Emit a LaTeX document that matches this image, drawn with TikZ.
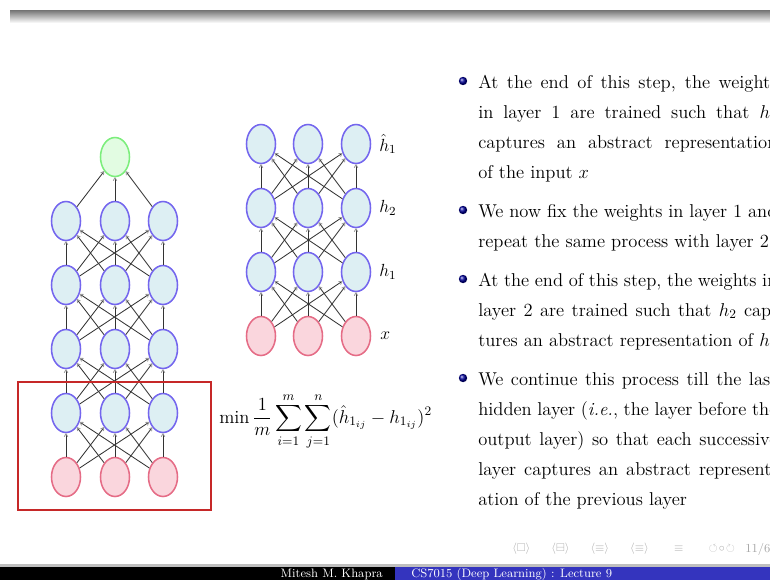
\RequirePackage{fix-cm}
\documentclass[tikz,border=0pt]{standalone}
\usepackage{amsmath,amssymb}
\usepackage{fontspec}
\usepackage{tikz}
\usetikzlibrary{arrows.meta,shapes.geometric,positioning,calc}

\definecolor{hidfill}{HTML}{DDEFF3}
\definecolor{hiddraw}{HTML}{7466EE}
\definecolor{infill}{HTML}{FAD6DD}
\definecolor{indraw}{HTML}{E56C86}
\definecolor{outfill}{HTML}{E2FCE2}
\definecolor{outdraw}{HTML}{7CEE7C}
\definecolor{boxred}{HTML}{C62828}
\definecolor{barblue}{HTML}{3434BE}

\newcommand{\justline}[1]{\makebox[7.475cm][s]{#1}}

\begin{document}
\begin{tikzpicture}[x=0.025cm, y=-0.025cm,
    neuron/.style={ellipse, draw, line width=1.1pt, inner sep=0pt, minimum width=7.25mm, minimum height=9.75mm},
    hid/.style={neuron, draw=hiddraw, fill=hidfill},
    inp/.style={neuron, draw=indraw, fill=infill},
    outn/.style={neuron, draw=outdraw, fill=outfill},
    arr/.style={-{To[length=2.6pt, width=3pt, color=black!40]}, line width=0.6pt, draw=black!80},
    txt/.style={anchor=base west, inner sep=0pt, font=\fontsize{13.2}{16}\selectfont},
    lbl/.style={anchor=west, inner sep=0pt, font=\fontsize{12.5}{15}\selectfont},
    bul/.style={ball color=blue!60!black}
]
\useasboundingbox (0,0) rectangle (770,580);
\clip (0,0) rectangle (770,580);

% slide frame
\shade[top color=black!55, bottom color=white] (10,10) rectangle (770,23);
\fill[black!25] (0,564) rectangle (770,567);
\fill[black] (0,567) rectangle (395,580);
\fill[barblue] (395,567) rectangle (770,580);
\node[anchor=base east, inner sep=0pt, text=white, font=\fontsize{8.7}{10}\selectfont] (author) at (383,577) {Mitesh M. Khapra};
\node[anchor=base west, inner sep=0pt, text=white, font=\fontsize{8.7}{10}\selectfont] (course) at (411,577) {CS7015 (Deep Learning) : Lecture 9};
\node[anchor=west, inner sep=0pt, text=black!30, font=\fontsize{8}{10}\selectfont] (nav) at (512,549)
    {$\langle\square\rangle$\hspace{15pt}$\langle\boxminus\rangle$\hspace{15pt}$\langle\equiv\rangle$\hspace{15pt}$\langle\equiv\rangle$\hspace{18pt}$\equiv$\hspace{18pt}$\circlearrowleft\!\circ\!\circlearrowright$};
\node[anchor=west, inner sep=0pt, text=black!35, font=\fontsize{8.7}{10}\selectfont] (page) at (745,549) {11/66};

% stacked network, layer 1 highlighted
\foreach \c/\x in {1/66,2/115,3/163} {
  \node[inp] (l0\c) at (\x,477) {};
  \foreach \r/\y in {1/413,2/349,3/285,4/221}
    \node[hid] (l\r\c) at (\x,\y) {};
}
\node[outn] (out) at (115,157) {};
\foreach \r/\s in {0/1,1/2,2/3,3/4}
  \foreach \a in {1,2,3}
    \foreach \b in {1,2,3}
      \draw[arr] (l\r\a) -- (l\s\b);
\foreach \a in {1,2,3}
  \draw[arr] (l4\a) -- (out);
\draw[boxred, line width=1.4pt] (18,382) rectangle (211,510);

% autoencoder for layer 2
\foreach \c/\x in {1/261,2/308,3/356} {
  \node[inp] (m0\c) at (\x,336) {};
  \node[hid] (m1\c) at (\x,272) {};
  \node[hid] (m2\c) at (\x,208) {};
  \node[hid] (m3\c) at (\x,144) {};
}
\foreach \r/\s in {0/1,1/2,2/3}
  \foreach \a in {1,2,3}
    \foreach \b in {1,2,3}
      \draw[arr] (m\r\a) -- (m\s\b);
\node[lbl] (hhat) at (379,144) {$\hat{h}_1$};
\node[lbl] (htwo) at (379,208) {$h_2$};
\node[lbl] (hone) at (379,272) {$h_1$};
\node[lbl] (xin) at (380,336) {$x$};

\node[anchor=west, inner sep=0pt, font=\fontsize{13.2}{16}\selectfont] (loss) at (219,421)
    {$\displaystyle \min \frac{1}{m}\sum_{i=1}^{m}\sum_{j=1}^{n}(\hat{h}_{1_{ij}} - h_{1_{ij}})^2$};

% bullets
\shade[bul] (463,81) circle (4.2);
\shade[bul] (463,210) circle (4.2);
\shade[bul] (463,279) circle (4.2);
\shade[bul] (463,378) circle (4.2);
\node[txt] (t1) at (478,88) {\justline{At the end of this step, the weights}};
\node[txt] (t2) at (478,118) {\justline{in layer 1 are trained such that $h_1$}};
\node[txt] (t3) at (478,148) {\justline{captures an abstract representation}};
\node[txt] (t4) at (478,178) {of the input $x$};
\node[txt] (t5) at (478,217) {\justline{We now fix the weights in layer 1 and}};
\node[txt] (t6) at (478,247) {repeat the same process with layer 2};
\node[txt] (t7) at (478,286) {\justline{At the end of this step, the weights in}};
\node[txt] (t8) at (478,316) {\justline{layer 2 are trained such that $h_2$ cap-}};
\node[txt] (t9) at (478,346) {tures an abstract representation of $h_1$};
\node[txt] (t10) at (478,385) {\justline{We continue this process till the last}};
\node[txt] (t11) at (478,415) {\justline{hidden layer (\emph{i.e.}, the layer before the}};
\node[txt] (t12) at (478,445) {\justline{output layer) so that each successive}};
\node[txt] (t13) at (478,475) {\justline{layer captures an abstract represent-}};
\node[txt] (t14) at (478,505) {ation of the previous layer};
\end{tikzpicture}
\end{document}
